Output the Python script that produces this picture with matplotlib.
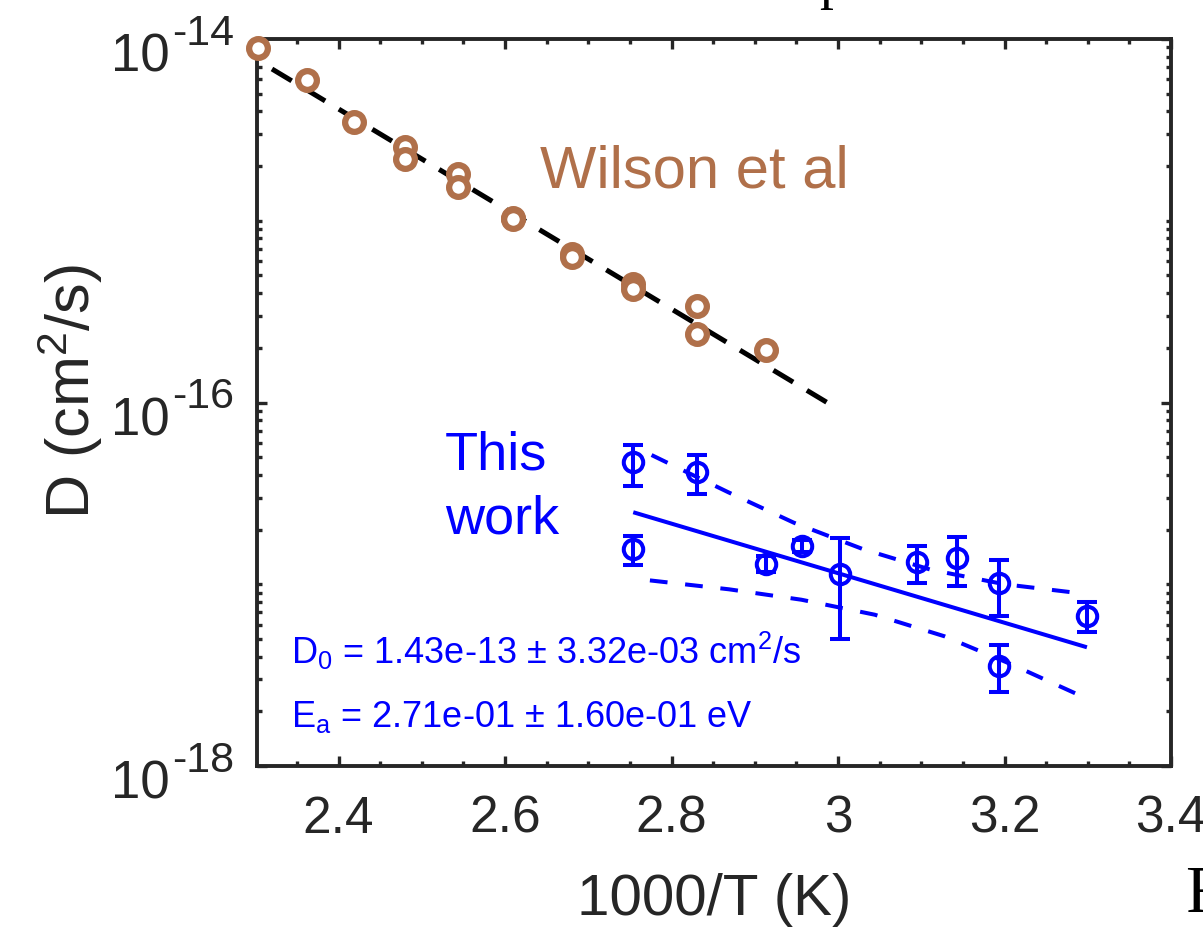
import matplotlib
matplotlib.use('Agg')
import matplotlib.pyplot as plt
import matplotlib.transforms as mtransforms
from matplotlib.ticker import FixedLocator, FixedFormatter, NullFormatter

# ---------------- data ----------------
wilson_x = [2.303, 2.362, 2.419, 2.480, 2.480, 2.543, 2.543, 2.610, 2.610,
            2.680, 2.680, 2.754, 2.754, 2.831, 2.831, 2.913]
wilson_D = [8.89e-15, 5.97e-15, 3.48e-15, 2.54e-15, 2.19e-15, 1.81e-15, 1.53e-15,
            1.04e-15, 1.02e-15, 6.56e-16, 6.29e-16, 4.49e-16, 4.21e-16,
            3.41e-16, 2.38e-16, 1.95e-16]
wilson_fit_x = [2.320, 3.0]
wilson_fit_D = [6.84e-15, 9.2e-17]

this_x = [2.754, 2.754, 2.831, 2.913, 2.957, 3.002, 3.095, 3.143, 3.193, 3.193, 3.299]
this_D = [4.69e-17, 1.56e-17, 4.13e-17, 1.29e-17, 1.62e-17, 1.14e-17,
          1.32e-17, 1.39e-17, 1.02e-17, 3.56e-18, 6.71e-18]
this_D_low = [3.48e-17, 1.28e-17, 3.14e-17, 1.17e-17, 1.50e-17, 5.0e-18,
              1.02e-17, 9.75e-18, 6.67e-18, 2.55e-18, 5.48e-18]
this_D_high = [5.83e-17, 1.85e-17, 5.14e-17, 1.43e-17, 1.75e-17, 1.79e-17,
               1.63e-17, 1.81e-17, 1.36e-17, 4.63e-18, 8.02e-18]

fit_x = [2.754, 3.299]
fit_D = [2.49e-17, 4.50e-18]
upper_x = [2.776, 2.868, 2.947, 3.030, 3.112, 3.200, 3.298]
upper_D = [5.14e-17, 3.21e-17, 2.18e-17, 1.56e-17, 1.20e-17, 1.00e-17, 8.84e-18]
lower_x = [2.774, 2.869, 2.956, 3.044, 3.128, 3.208, 3.298]
lower_D = [1.05e-17, 9.38e-18, 8.22e-18, 6.80e-18, 5.17e-18, 3.63e-18, 2.36e-18]

x_ticks = [2.4, 2.6, 2.8, 3.0, 3.2, 3.4]
x_ticklabels = ['2.4', '2.6', '2.8', '3', '3.2', '3.4']
y_ticks = [1e-18, 1e-16, 1e-14]
y_tick_base = ['10', '10', '10']
y_tick_exp = ['-18', '-16', '-14']

# ---------------- style ----------------
plt.rcParams['font.family'] = ['Liberation Sans', 'DejaVu Sans']
plt.rcParams['mathtext.fontset'] = 'custom'
plt.rcParams['mathtext.rm'] = 'Liberation Sans'
plt.rcParams['mathtext.it'] = 'Liberation Sans'
plt.rcParams['mathtext.bf'] = 'Liberation Sans:bold'
plt.rcParams['mathtext.sf'] = 'Liberation Sans'
plt.rcParams['axes.unicode_minus'] = False

AX = '#262626'
BROWN = '#B0704A'
BLUE = '#0000FF'

W, H = 1203, 928
fig = plt.figure(figsize=(W / 100, H / 100), dpi=100)
L, R, T, B = 257, 1171, 40, 767
ax = fig.add_axes([L / W, 1 - B / H, (R - L) / W, (B - T) / H])
ax.set_yscale('log')

# Wilson data + fit
ax.plot(wilson_fit_x, wilson_fit_D, color='black', lw=3.6, dashes=(4.6, 3.2), zorder=2)
ax.plot(wilson_x, wilson_D, 'o', ms=13.5, mfc='white', mec=BROWN, mew=4.5,
        clip_on=False, zorder=3)

# This work
yerr = [[d - l for d, l in zip(this_D, this_D_low)],
        [h - d for d, h in zip(this_D, this_D_high)]]
ax.errorbar(this_x, this_D, yerr=yerr, fmt='o', ms=14, mfc='none', mec=BLUE,
            mew=2.9, ecolor=BLUE, elinewidth=2.9, capsize=7.5, capthick=3.0,
            color=BLUE, zorder=3)
ax.plot(fit_x, fit_D, color=BLUE, lw=2.9, solid_capstyle='butt')
ax.plot(upper_x, upper_D, color=BLUE, lw=2.9, dashes=(4.4, 4.4))
ax.plot(lower_x, lower_D, color=BLUE, lw=2.9, dashes=(4.4, 4.4))

# axes
ax.set_xlim(2.302, 3.4)
ax.set_ylim(1e-18, 1e-14)
ax.xaxis.set_major_locator(FixedLocator(x_ticks))
ax.xaxis.set_major_formatter(FixedFormatter(x_ticklabels))
ax.xaxis.set_minor_locator(FixedLocator([2.35 + 0.05 * i for i in range(21)]))
ax.yaxis.set_major_locator(FixedLocator(y_ticks))
ax.yaxis.set_major_formatter(NullFormatter())
minor_y = [m * 10.0 ** e for e in range(-18, -14) for m in range(1, 10) if not (m == 1 and e % 2 == 0)]
ax.yaxis.set_minor_locator(FixedLocator(minor_y))
ax.yaxis.set_minor_formatter(NullFormatter())

for s in ax.spines.values():
    s.set_linewidth(2.8)
    s.set_color(AX)
ax.tick_params(which='both', direction='in', top=True, right=True, color=AX,
               labelcolor=AX, width=2.4)
ax.tick_params(which='major', length=7.5)
ax.tick_params(which='minor', length=3.8)
ax.tick_params(axis='x', which='major', labelsize=37, pad=20)

# y tick labels: "10" with raised exponent
ytrans = ax.get_yaxis_transform()
for yv, base, ex in zip(y_ticks, y_tick_base, y_tick_exp):
    tb = mtransforms.offset_copy(ytrans, fig=fig, x=0, y=-32, units='dots')
    te = mtransforms.offset_copy(ytrans, fig=fig, x=0, y=-5, units='dots')
    ax.text((170 - L) / (R - L), yv, base, transform=tb, fontsize=38, color=AX,
            ha='right', va='baseline', clip_on=False)
    ax.text((172 - L) / (R - L), yv, ex, transform=te, fontsize=31, color=AX,
            ha='left', va='baseline', clip_on=False)

ax.set_xlabel('1000/T (K)', fontsize=42, color=AX)
ax.xaxis.set_label_coords(0.5, -0.146)
ax.set_ylabel(r'D (cm$^2$/s)', fontsize=44, color=AX)
ax.yaxis.set_label_coords(-0.166, 0.516)

def ftext(x, y, s, **kw):
    fig.text(x / W, 1 - y / H, s, **kw)

ftext(540, 187, 'Wilson et al', fontsize=43, color=BROWN, va='baseline', ha='left')
ftext(445, 470, 'This', fontsize=39, color=BLUE, va='baseline', ha='left')
ftext(445, 533, 'work', fontsize=39, color=BLUE, va='baseline', ha='left')
ftext(291, 664, r'D$_0$ = 1.43e-13 ± 3.32e-03 cm$^2$/s', fontsize=26, color=BLUE,
      va='baseline', ha='left')
ftext(291, 727, r'E$_a$ = 2.71e-01 ± 1.60e-01 eV', fontsize=26, color=BLUE,
      va='baseline', ha='left')

# clipped fragments of neighbouring text
ftext(819, -2, 'p', fontsize=40, color='black', va='baseline', ha='left',
      family='Liberation Serif')
ftext(1185, 912, 'F', fontsize=48, color='black', va='baseline', ha='left',
      family='Liberation Serif')

fig.savefig('out.png', dpi=100)
